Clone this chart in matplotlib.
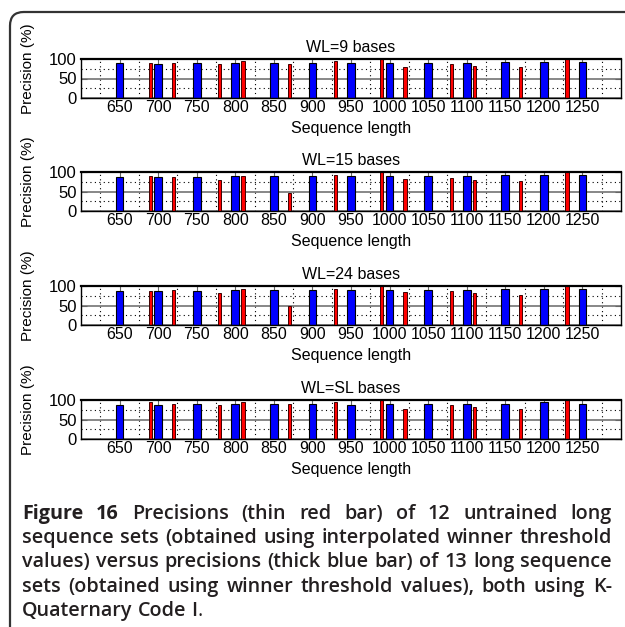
import numpy as np
import matplotlib.pyplot as plt
from matplotlib.patches import FancyBboxPatch

# 13 trained long sequence sets (thick blue bars)
seq_len = [650, 700, 750, 800, 850, 900, 950, 1000, 1050, 1100, 1150, 1200, 1250]
# 12 untrained sets, interpolated thresholds (thin red bars)
untrained_len = [690, 720, 780, 810, 870, 930, 990, 1020, 1080, 1110, 1170, 1230]

wl_titles = ['WL=9 bases', 'WL=15 bases', 'WL=24 bases', 'WL=SL bases']

blue_wl9 = [89, 88, 89, 91, 91, 91, 91, 91, 91, 91, 93, 93, 93]
red_wl9 = [91, 89, 86, 94, 88, 94, 99, 79, 87, 83, 79, 99]
blue_wl15 = [88, 87, 88, 90, 90, 90, 90, 90, 90, 90, 92, 92, 92]
red_wl15 = [90, 88, 80, 90, 47, 92, 99, 82, 85, 80, 78, 99]
blue_wl24 = [87, 87, 87, 90, 90, 90, 90, 90, 90, 90, 92, 92, 92]
red_wl24 = [87, 90, 82, 92, 49, 92, 99, 85, 87, 82, 77, 99]
blue_wlsl = [86, 86, 89, 89, 89, 91, 86, 89, 91, 91, 91, 94, 91]
red_wlsl = [94, 89, 86, 94, 89, 94, 99, 77, 86, 83, 78, 99]

blue_sets = [blue_wl9, blue_wl15, blue_wl24, blue_wlsl]
red_sets = [red_wl9, red_wl15, red_wl24, red_wlsl]

caption_lines = [
    'Figure 16 Precisions (thin red bar) of 12 untrained long',
    'sequence sets (obtained using interpolated winner threshold',
    'values) versus precisions (thick blue bar) of 13 long sequence',
    'sets (obtained using winner threshold values), both using K-',
    'Quaternary Code I',
]

W, H = 625, 627
plt.rcParams['font.family'] = ['Liberation Sans', 'DejaVu Sans']

fig = plt.figure(figsize=(W / 100, H / 100), dpi=100)

# rounded frame, running off the right and bottom edges
frame = FancyBboxPatch((10 / W, -0.1), 1.2, 1 - 12 / H + 0.1,
                       boxstyle='round,pad=0,rounding_size=0.022',
                       transform=fig.transFigure, fill=False,
                       ec='0.2', lw=1.6, clip_on=False)
fig.add_artist(frame)

ax_left, ax_w, ax_h = 81, 540, 39
ax_tops = [59, 172, 286, 400]

for i in range(4):
    top = ax_tops[i]
    ax = fig.add_axes([ax_left / W, 1 - (top + ax_h) / H, ax_w / W, ax_h / H])
    ax.set_axisbelow(True)
    ax.bar(seq_len, blue_sets[i], width=10, color='#0000ff', edgecolor='k', lw=0.8)
    ax.bar(untrained_len, red_sets[i], width=4, color='#ff0000', edgecolor='#400000', lw=0.7)

    ax.set_xlim(600, 1300)
    ax.set_ylim(0, 100)
    ax.set_xticks(seq_len)
    ax.set_xticks(np.arange(625, 1300, 50), minor=True)
    ax.set_yticks([0, 50, 100])
    ax.set_yticks([25, 75], minor=True)
    ax.tick_params(which='major', direction='in', top=True, right=True, length=4,
                   color='0.4', pad=1.5)
    ax.tick_params(axis='x', which='major', labelsize=11.5)
    ax.tick_params(axis='y', which='major', labelsize=12, pad=3)
    ax.tick_params(which='minor', length=0)
    ax.grid(which='minor', linestyle=(0, (1, 3)), color='k', lw=0.8)
    ax.yaxis.grid(True, which='major', color='0.45', lw=1.2)
    for s in ax.spines.values():
        s.set_linewidth(1.0)
    ax.spines['top'].set_linewidth(1.6)

    ax.set_title(wl_titles[i], fontsize=11.5, pad=5)
    ax.set_xlabel('Sequence length', fontsize=11.5, labelpad=4)
    ax.set_ylabel('Precision (%)', fontsize=11)
    ax.yaxis.set_label_coords(-0.085, 0.74)

# caption, justified like the journal layout
renderer = fig.canvas.get_renderer()
cap_x0, cap_x1 = 22, 612
cap_base = [519, 543, 567, 592, 616]
cap_color = '#231f20'
cap_font = ['Open Sans', 'DejaVu Sans']


def word_width(word, size, weight):
    t = fig.text(0, 0, word, fontsize=size, family=cap_font, weight=weight)
    w = t.get_window_extent(renderer).width
    t.remove()
    return w


# largest size at which the justified lines still keep a normal word gap
cap_size = 15.0
while cap_size > 8:
    worst = 1e9
    for line in caption_lines[1:4]:
        words = line.split(' ')
        total = sum(word_width(w, cap_size, 'semibold') for w in words)
        worst = min(worst, (cap_x1 - cap_x0 - total) / (len(words) - 1))
    if worst >= 5:
        break
    cap_size -= 0.25

for i, line in enumerate(caption_lines):
    words = line.split(' ')
    y = 1 - cap_base[i] / H
    texts = []
    for j, w in enumerate(words):
        bold = (i == 0 and j < 2)
        t = fig.text(0, y, w, fontsize=cap_size, color=cap_color,
                     family=cap_font, weight='bold' if bold else 'semibold',
                     va='baseline')
        texts.append(t)
    widths = [t.get_window_extent(renderer).width for t in texts]
    if i < len(caption_lines) - 1:
        gap = (cap_x1 - cap_x0 - sum(widths)) / (len(words) - 1)
    else:
        gap = 0.26 * cap_size * 100 / 72
    x = cap_x0
    for t, w in zip(texts, widths):
        t.set_x(x / W)
        x += w + gap
    if i == len(caption_lines) - 1:
        fig.text((x - gap) / W, y, '.', fontsize=cap_size,
                 color=cap_color, family=cap_font, va='baseline')

fig.savefig('out.png', dpi=100)
